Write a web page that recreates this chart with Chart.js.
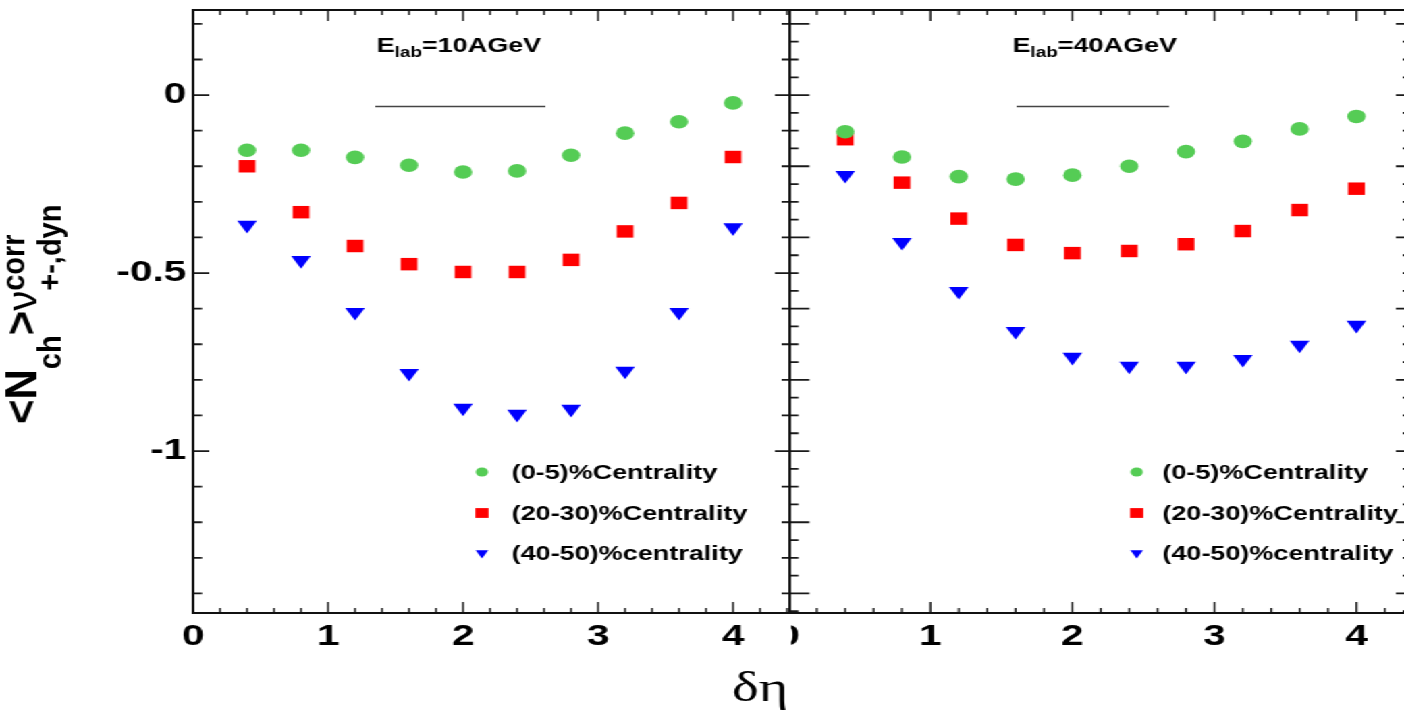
<!DOCTYPE html>
<html>
<head>
<meta charset="utf-8">
<title>nu dyn vs delta eta</title>
<script src="https://cdn.jsdelivr.net/npm/chart.js@4.4.1/dist/chart.umd.min.js"></script>
<style>
  html, body { margin: 0; padding: 0; background: #fff; overflow: hidden; width: 1404px; height: 720px; }
  /* the original figure is stretched sideways, so the whole drawing is too */
  #wrap { position: absolute; left: 0; top: 0; width: 1060px; height: 720px; transform: scaleX(1.35); transform-origin: 0 0; }
  #wrap canvas { position: absolute; left: 0; top: 0; }
</style>
</head>
<body>
<div id="wrap">
  <canvas id="panel40" width="1060" height="720"></canvas>
  <canvas id="panel10" width="605" height="720"></canvas>
</div>
<script>
// data
const deltaEta = [0.4, 0.8, 1.2, 1.6, 2.0, 2.4, 2.8, 3.2, 3.6, 4.0];

const cent05_10   = [-0.155, -0.155, -0.175, -0.197, -0.216, -0.213, -0.169, -0.107, -0.075, -0.022];
const cent2030_10 = [-0.200, -0.329, -0.424, -0.475, -0.497, -0.497, -0.463, -0.383, -0.303, -0.174];
const cent4050_10 = [-0.365, -0.464, -0.610, -0.781, -0.879, -0.896, -0.882, -0.775, -0.610, -0.372];

const cent05_40   = [-0.103, -0.174, -0.229, -0.236, -0.225, -0.200, -0.159, -0.130, -0.095, -0.060];
const cent2030_40 = [-0.124, -0.246, -0.347, -0.421, -0.444, -0.438, -0.419, -0.382, -0.323, -0.263];
const cent4050_40 = [-0.225, -0.413, -0.551, -0.663, -0.736, -0.761, -0.761, -0.742, -0.702, -0.646];

const seriesLabels = ['(0-5)%Centrality', '(20-30)%Centrality', '(40-50)%centrality'];
const xTickLabels = [0, 1, 2, 3, 4];
const yTickLabels = [0, -0.5, -1];

const green = '#55cc55';
const red = '#ff0000';
const blue = '#0000ff';
const FONT = '"Liberation Sans", Arial, Helvetica, sans-serif';

Chart.defaults.font.family = FONT;
Chart.defaults.color = '#000';

function pts(ys) {
  return deltaEta.map((x, i) => ({ x: x, y: ys[i] }));
}

function marker(ctx, style, x, y, r) {
  ctx.beginPath();
  if (style === 'circle') {
    ctx.arc(x, y, r, 0, Math.PI * 2);
  } else if (style === 'rect') {
    ctx.rect(x - r, y - r, 2 * r, 2 * r);
  } else {
    // downward triangle
    ctx.moveTo(x - r * 0.87, y - r * 0.5);
    ctx.lineTo(x + r * 0.87, y - r * 0.5);
    ctx.lineTo(x, y + r);
  }
  ctx.closePath();
  ctx.fill();
}

// ROOT style frame with inward ticks
const frameTicks = {
  id: 'frameTicks',
  afterDatasetsDraw(chart, args, o) {
    const { ctx, chartArea: a, scales: { x, y } } = chart;
    ctx.save();
    ctx.strokeStyle = '#1a1a1a';

    ctx.lineWidth = 1.4;
    ctx.beginPath();
    const nx = Math.floor(x.max / 0.2 + 1e-6);
    for (let i = 0; i <= nx; i++) {
      const px = x.getPixelForValue(i * 0.2);
      const len = i % 5 === 0 ? 11 : 5;
      ctx.moveTo(px, a.bottom); ctx.lineTo(px, a.bottom - len);
      ctx.moveTo(px, a.top); ctx.lineTo(px, a.top + len);
    }
    ctx.stroke();

    ctx.lineWidth = 1.8;
    ctx.beginPath();
    function ticksY(spec, x0, dir) {
      const k0 = Math.ceil(y.min / spec.step - 1e-6);
      const k1 = Math.floor(y.max / spec.step + 1e-6);
      for (let k = k0; k <= k1; k++) {
        const v = k * spec.step;
        const q = v / spec.major;
        const major = Math.abs(q - Math.round(q)) < 1e-6;
        const py = y.getPixelForValue(v);
        ctx.moveTo(x0, py);
        ctx.lineTo(x0 + dir * (major ? spec.majorLen : spec.minorLen), py);
      }
    }
    ticksY(o.left, a.left, 1);
    ticksY(o.right, a.right, -1);
    ctx.stroke();

    ctx.lineWidth = 2;
    ctx.strokeStyle = '#111';
    ctx.strokeRect(a.left, a.top, a.right - a.left, a.bottom - a.top);
    ctx.restore();
  }
};

const panelText = {
  id: 'panelText',
  beforeDraw(chart) {
    // white only up to the panel's right frame, the rest stays see-through
    const ctx = chart.ctx;
    ctx.save();
    ctx.fillStyle = '#fff';
    ctx.fillRect(0, 0, chart.chartArea.right + 1, chart.height);
    ctx.restore();
  },
  afterDraw(chart, args, o) {
    const ctx = chart.ctx;
    ctx.save();
    ctx.fillStyle = '#000';
    ctx.textAlign = 'left';
    ctx.textBaseline = 'alphabetic';

    // energy label + short line under it
    let tx = o.annotX;
    ctx.font = 'bold 20px ' + FONT;
    ctx.fillText('E', tx, 52);
    tx += ctx.measureText('E').width;
    ctx.font = 'bold 14px ' + FONT;
    ctx.fillText('lab', tx, 57);
    tx += ctx.measureText('lab').width;
    ctx.font = 'bold 20px ' + FONT;
    ctx.fillText(o.energy, tx, 52);

    ctx.strokeStyle = '#444';
    ctx.lineWidth = 1.5;
    ctx.beginPath();
    ctx.moveTo(o.lineX0, 106.5);
    ctx.lineTo(o.lineX1, 106.5);
    ctx.stroke();

    // legend
    const rows = [472, 513, 553];
    const styles = [['circle', 4.6], ['rect', 4.9], ['tri', 5.4]];
    chart.data.datasets.forEach((ds, i) => {
      ctx.fillStyle = ds.backgroundColor;
      marker(ctx, styles[i][0], o.symX, rows[i], styles[i][1]);
      ctx.fillStyle = '#000';
      ctx.font = 'bold 20px ' + FONT;
      ctx.textBaseline = 'middle';
      ctx.fillText(ds.label, o.textX, rows[i] + 1);
    });

    if (o.titles) {
      // x title
      ctx.textBaseline = 'alphabetic';
      ctx.textAlign = 'right';
      ctx.font = '42px "Liberation Serif", "DejaVu Serif", serif';
      ctx.fillText('δη', 584, 701);

      // y title, rotated
      ctx.save();
      ctx.translate(27, 424);
      ctx.rotate(-Math.PI / 2);
      ctx.scale(1, 0.8);
      ctx.textAlign = 'left';
      let px = 0;
      const put = (t, font, dy) => {
        ctx.font = font;
        ctx.fillText(t, px, dy);
        return ctx.measureText(t).width;
      };
      px += put('<N', 'bold 42px ' + FONT, 0);
      px += put('ch', 'bold 29px ' + FONT, 23);
      px += put('>', 'bold 42px ' + FONT, 0);
      px += put('ν', '40px ' + FONT, 0);
      put('corr', 'bold 29px ' + FONT, -11);
      put('+-,dyn', 'bold 29px ' + FONT, 22);
      ctx.restore();
    }
    ctx.restore();
  }
};

function makePanel(id, p) {
  return new Chart(document.getElementById(id), {
    type: 'scatter',
    data: {
      datasets: [
        { label: seriesLabels[0], data: pts(p.c05), pointStyle: 'circle', pointRadius: 6.8,
          backgroundColor: green, borderWidth: 0 },
        { label: seriesLabels[1], data: pts(p.c2030), pointStyle: 'rect', pointRadius: 8.8,
          backgroundColor: red, borderWidth: 0 },
        { label: seriesLabels[2], data: pts(p.c4050), pointStyle: 'triangle', pointRotation: 180, rotation: 180,
          pointRadius: 8.4, backgroundColor: blue, borderWidth: 0 }
      ]
    },
    options: {
      responsive: false,
      animation: false,
      events: [],
      layout: { padding: { top: 10, right: p.padRight, left: 0, bottom: 0 } },
      plugins: {
        legend: { display: false },
        tooltip: { enabled: false },
        frameTicks: p.ticks,
        panelText: p.text
      },
      scales: {
        x: {
          type: 'linear', min: 0, max: p.xMax,
          grid: { display: false, drawTicks: false },
          border: { display: false },
          ticks: { font: { size: 30, weight: 'bold' }, padding: 6, maxRotation: 0, color: '#000' },
          afterBuildTicks: s => { s.ticks = xTickLabels.map(v => ({ value: v })); },
          afterFit: s => { s.height = 107; s.paddingLeft = 0; s.paddingRight = 0; }
        },
        y: {
          type: 'linear', min: -1.455, max: 0.239,
          grid: { display: false, drawTicks: false },
          border: { display: false },
          ticks: { display: p.yLabels, font: { size: 30, weight: 'bold' }, padding: 5, color: '#000',
                   callback: v => String(v) },
          afterBuildTicks: s => { s.ticks = yTickLabels.map(v => ({ value: v })); },
          afterFit: s => { s.width = p.yWidth; s.paddingTop = 0; s.paddingBottom = 0; }
        }
      }
    },
    plugins: [frameTicks, panelText]
  });
}

makePanel('panel40', {
  c05: cent05_40, c2030: cent2030_40, c4050: cent4050_40,
  xMax: 4.373, yWidth: 584, padRight: 16, yLabels: false,
  ticks: {
    left: { step: 0.05, major: 0.2, majorLen: 15.5, minorLen: 7.5 },
    right: { step: 0.05, major: 0.2, majorLen: 10, minorLen: 5 }
  },
  text: { energy: '=40AGeV', annotX: 750, lineX0: 753, lineX1: 866, symX: 842, textX: 861, titles: false }
});

makePanel('panel10', {
  c05: cent05_10, c2030: cent2030_10, c4050: cent4050_10,
  xMax: 4.42, yWidth: 143, padRight: 20, yLabels: true,
  ticks: {
    left: { step: 0.1, major: 0.5, majorLen: 12, minorLen: 6.7 },
    right: { step: 0.1, major: 0.5, majorLen: 11, minorLen: 6 }
  },
  text: { energy: '=10AGeV', annotX: 279, lineX0: 278, lineX1: 404, symX: 357, textX: 379, titles: true }
});
</script>
</body>
</html>
